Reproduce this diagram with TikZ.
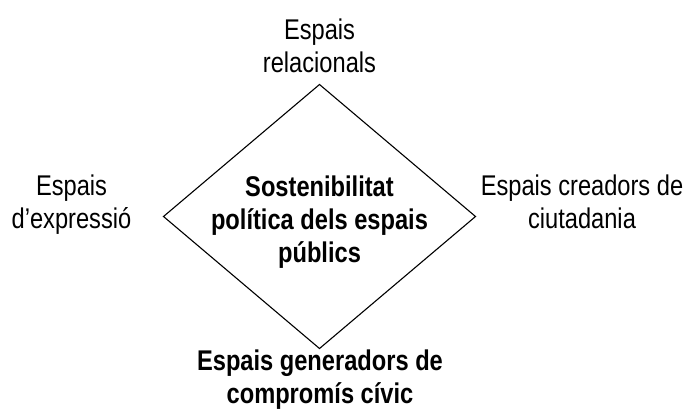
\documentclass[tikz,border=0pt]{standalone}
\usepackage{fontspec}
\setmainfont{Liberation Sans}[FakeStretch=0.83]
\usetikzlibrary{shapes.geometric}
\begin{document}
\begin{tikzpicture}[x=1pt,y=-1pt,
  lbl/.style={align=center,inner sep=0pt,anchor=base,
    font=\fontsize{28.5}{33}\selectfont},
  blbl/.style={lbl,font=\fontsize{28.5}{33}\selectfont\bfseries},
  dia/.style={draw=black,line width=1.1pt,shape=diamond,inner sep=0pt,outer sep=0pt,
    minimum width=312pt,minimum height=264pt}]
\useasboundingbox (0,0) rectangle (688,408);
\node[dia] (d) at (319.5,216.5) {};
\node[blbl] (c) at (319.5,262) {Sostenibilitat\\política dels espais\\públics};
\node[lbl] (t) at (319.5,72) {Espais\\relacionals};
\node[lbl] (l) at (71.5,228) {Espais\\d’expressió};
\node[lbl] (r) at (582,228) {Espais creadors de\\ciutadania};
\node[blbl] (b) at (320,403) {Espais generadors de\\compromís cívic};
\end{tikzpicture}
\end{document}
